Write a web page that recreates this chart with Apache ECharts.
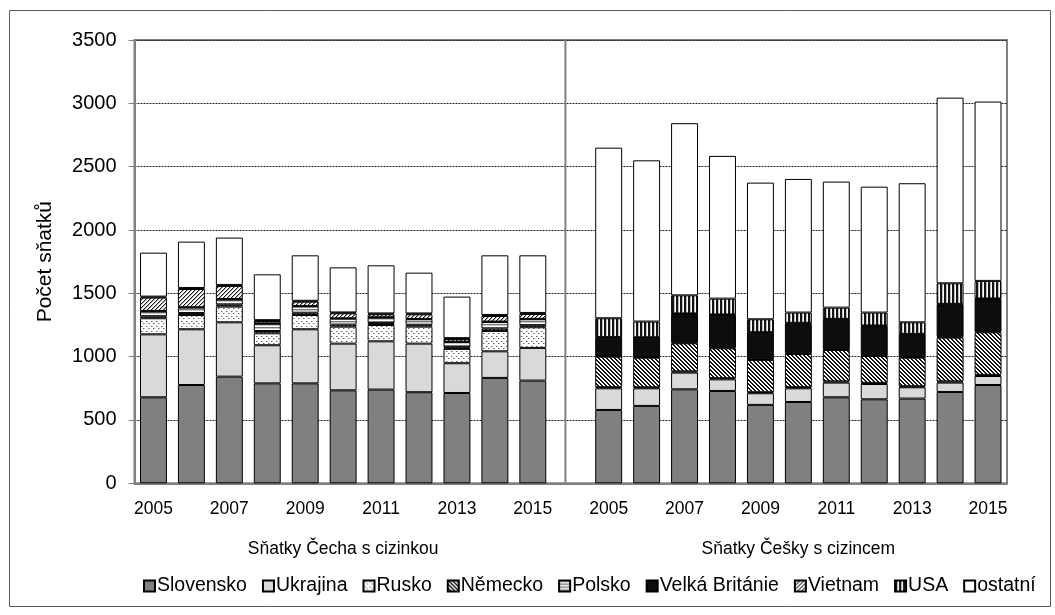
<!DOCTYPE html>
<html>
<head>
<meta charset="utf-8">
<script src="https://cdn.jsdelivr.net/npm/echarts@6/dist/echarts.min.js"></script>
<style>
html,body{margin:0;padding:0;background:#fff;}
#chart{width:1055px;height:615px;}
</style>
</head>
<body>
<div id="chart"></div>
<script>
// ---- data ----
const years = ['2005','2006','2007','2008','2009','2010','2011','2012','2013','2014','2015'];
const groupLabels = ['Sňatky Čecha s cizinkou', 'Sňatky Češky s cizincem'];
const seriesNames = ['Slovensko','Ukrajina','Rusko','Německo','Polsko','Velká Británie','Vietnam','USA','ostatní'];

// Sňatky Čecha s cizinkou (left group)
const menSlovensko = [679,776,842,789,789,734,740,719,713,832,811];
const menUkrajina  = [497,440,429,301,427,369,381,384,235,210,258];
const menRusko     = [127,113,124,94,113,134,129,134,113,161,163];
const menNemecko   = [15,15,15,18,18,16,15,15,14,18,16];
const menPolsko    = [40,43,42,58,50,47,43,43,41,52,47];
const menVB        = [3,3,3,3,3,3,3,3,3,4,3];
const menVietnam   = [105,144,103,19,34,39,23,36,21,44,39];
const menUSA       = [8,8,8,6,7,7,7,7,6,8,8];
const menOstatni   = [347,366,374,362,359,356,380,322,328,471,455];

// Sňatky Češky s cizincem (right group)
const womenSlovensko = [579,611,742,729,619,642,679,663,669,721,776];
const womenUkrajina  = [171,139,132,92,92,108,116,121,89,74,71];
const womenRusko     = [9,8,10,9,8,9,10,9,8,10,9];
const womenNemecko   = [241,234,221,236,255,262,248,212,226,345,336];
const womenPolsko    = [5,5,6,5,5,6,5,5,5,6,6];
const womenVB        = [145,153,226,258,211,236,237,232,180,257,257];
const womenVietnam   = [4,3,4,4,3,4,3,4,3,4,4];
const womenUSA       = [149,124,143,125,102,81,89,102,91,162,139];
const womenOstatni   = [1347,1273,1359,1127,1079,1055,995,994,1098,1466,1416];

const yTicks = {min:0, max:3500, interval:500};
const dividerPos = 11.36; // position of the group divider on the category scale

// ---- build ----
const categories = years.concat([''], years);
const groupAxisData = categories.map((c,i)=> i===5 ? groupLabels[0] : (i===17 ? groupLabels[1] : ''));
const pairs = [
  [menSlovensko, womenSlovensko],[menUkrajina, womenUkrajina],[menRusko, womenRusko],
  [menNemecko, womenNemecko],[menPolsko, womenPolsko],[menVB, womenVB],
  [menVietnam, womenVietnam],[menUSA, womenUSA],[menOstatni, womenOstatni]
];

function pat(w,h,fn){
  const c=document.createElement('canvas'); c.width=w; c.height=h;
  const g=c.getContext('2d');
  const img=g.createImageData(w,h);
  for(let y=0;y<h;y++)for(let x=0;x<w;x++){
    const v=fn(x,y); const k=(y*w+x)*4;
    img.data[k]=v;img.data[k+1]=v;img.data[k+2]=v;img.data[k+3]=255;
  }
  g.putImageData(img,0,0);
  return {image:c, repeat:'repeat'};
}
const fills = [
  '#808080',
  '#d9d9d9',
  pat(5,5,(x,y)=> ((x===1&&y===1)||(x===3&&y===3)) ? 100 : (((x===2&&y===1)||(x===4&&y===3))?185:255)),
  pat(4,4,(x,y)=> (((x-y)%4+4)%4<2) ? 20 : 255),
  pat(1,3,(x,y)=> y===0 ? 120 : (y===1?200:255)),
  '#0d0d0d',
  pat(4,4,(x,y)=> ((x+y)%4===0) ? 30 : ((x+y)%4===1?170:255)),
  pat(4,1,(x,y)=> x<2 ? 20 : (x===2?190:255)),
  '#ffffff'
];

const series = seriesNames.map((n,i)=>({
  name:n, type:'bar', stack:'total', xAxisIndex:0, yAxisIndex:0,
  barCategoryGap:'29%',
  itemStyle:{color:fills[i], borderColor:'#000', borderWidth:1},
  emphasis:{disabled:true},
  data: pairs[i][0].concat(['-'], pairs[i][1])
}));
series.push({
  name:'divider', type:'line', xAxisIndex:2, yAxisIndex:0, symbol:'none', silent:true,
  lineStyle:{color:'#808080', width:2}, z:5,
  data:[[dividerPos, yTicks.min],[dividerPos, yTicks.max]]
});

const font = 'Liberation Sans, Arial, sans-serif';
const chart = echarts.init(document.getElementById('chart'), null, {renderer:'canvas'});
chart.setOption({
  animation:false,
  textStyle:{fontFamily:font},
  grid:{left:134.5, right:48, top:40, bottom:131.7, show:true, borderColor:'#808080', borderWidth:2, backgroundColor:'transparent'},
  xAxis:[
    {type:'category', data:categories, gridIndex:0,
     axisLine:{lineStyle:{color:'#808080', width:2}}, axisTick:{show:false},
     axisLabel:{interval:1, color:'#000', fontSize:17.5, margin:17, fontFamily:font}},
    {type:'category', data:groupAxisData, gridIndex:0, position:'bottom', offset:40,
     axisLine:{show:false}, axisTick:{show:false},
     axisLabel:{interval:0, color:'#000', fontSize:17.5, margin:17, fontFamily:font}},
    {type:'value', min:0, max:categories.length, gridIndex:0, show:false}
  ],
  yAxis:[{type:'value', min:yTicks.min, max:yTicks.max, interval:yTicks.interval,
    name:'Počet sňatků', nameLocation:'middle', nameGap:79, nameRotate:90,
    nameTextStyle:{color:'#000', fontSize:21, fontFamily:font},
    axisLine:{show:true, lineStyle:{color:'#808080', width:2}},
    axisTick:{show:true, length:6, lineStyle:{color:'#808080', width:1}},
    axisLabel:{color:'#000', fontSize:20, margin:18, fontFamily:font, formatter:(v)=>String(v)},
    splitLine:{show:true, lineStyle:{color:'#222', width:1, type:[2,1]}}
  }],
  legend:{data:seriesNames, bottom:14, left:138, itemWidth:11, itemHeight:11, itemGap:15,
    icon:'rect', textStyle:{color:'#000', fontSize:19.5, fontFamily:font, padding:[0,0,0,-3]}},
  graphic:[{type:'rect', shape:{x:9.5, y:10.5, width:1041, height:596}, style:{fill:null, stroke:'#595959', lineWidth:1}, silent:true}],
  series:series
});
</script>
</body>
</html>
